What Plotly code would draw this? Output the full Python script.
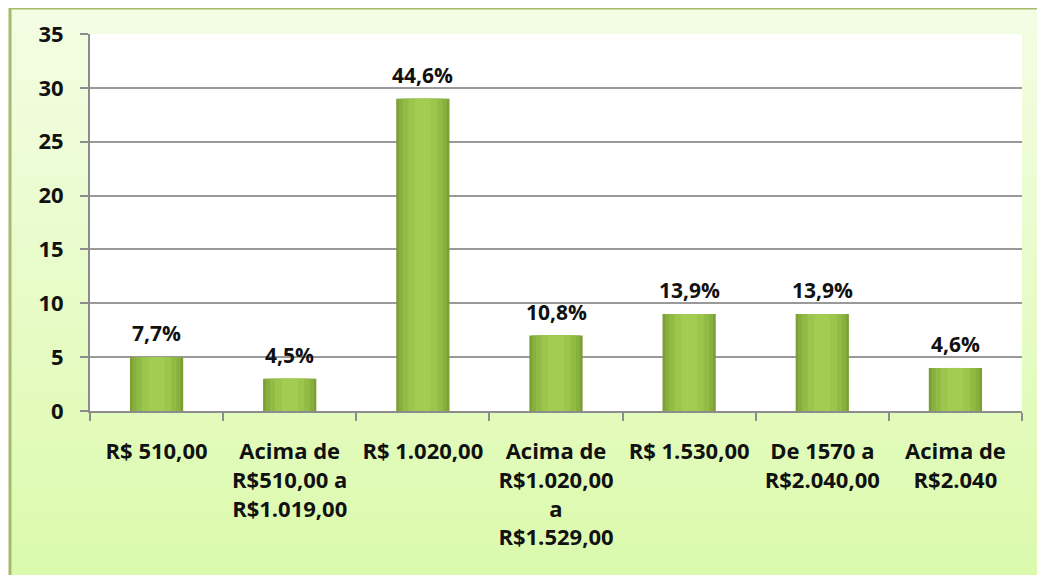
import plotly.graph_objects as go

categories = [
    "R$ 510,00",
    "Acima de<br>R$510,00 a<br>R$1.019,00",
    "R$ 1.020,00",
    "Acima de<br>R$1.020,00<br>a<br>R$1.529,00",
    "R$ 1.530,00",
    "De 1570 a<br>R$2.040,00",
    "Acima de<br>R$2.040",
]
values = [5, 3, 29, 7, 9, 9, 4]
pct_labels = ["7,7%", "4,5%", "44,6%", "10,8%", "13,9%", "13,9%", "4,6%"]
y_ticks = [0, 5, 10, 15, 20, 25, 30, 35]

FONT = "Open Sans"
W, H = 1045, 575
OFF = 8  # page body margin
L, T = 90 - OFF, 34 - OFF
pw, ph = 932, 377
R = W - L - pw
B = H - T - ph

fig = go.Figure()
# stepped gradient bars (outer dark -> inner light)
layers = [(0.40, "#7e9f36"), (0.36, "#88b03e"), (0.30, "#92bb45"), (0.22, "#9bc54c"), (0.12, "#a2cc52")]
for w, c in layers:
    fig.add_trace(go.Bar(
        x=categories, y=values, width=w, marker=dict(color=c, line=dict(width=0)),
        hoverinfo="skip", showlegend=False,
    ))

for cat, v, lab in zip(categories, values, pct_labels):
    fig.add_annotation(
        x=cat, y=v, text=lab, showarrow=False, yanchor="bottom", yshift=8,
        font=dict(family=FONT, size=21, color="#111111", weight="bold"),
    )

# background gradient bands inside the chart border
def px_to_paper_x(px):
    return (px - OFF - L) / pw

def px_to_paper_y(py):
    return 1 - (py - OFF - T) / ph

top_c = (0xf3, 0xfd, 0xe4)
bot_c = (0xdb, 0xfa, 0xab)
y_top, y_bot = 8, 590
n = 24
bx0 = px_to_paper_x(10)
for i in range(n):
    t = (i + 0.5) / n
    c = tuple(round(a + (b - a) * t) for a, b in zip(top_c, bot_c))
    ya = y_top + (y_bot - y_top) * i / n
    yb = y_top + (y_bot - y_top) * (i + 1) / n + 1
    fig.add_shape(type="rect", xref="paper", yref="paper", x0=bx0, x1=1.1,
                  y0=px_to_paper_y(yb), y1=px_to_paper_y(ya),
                  fillcolor="rgb(%d,%d,%d)" % c, line=dict(width=0), layer="below")
fig.add_shape(type="rect", xref="paper", yref="paper", x0=bx0, x1=1.1,
              y0=px_to_paper_y(y_bot), y1=px_to_paper_y(y_top),
              fillcolor="rgba(0,0,0,0)", line=dict(color="#a7ba6c", width=3), layer="below")
fig.add_shape(type="rect", xref="paper", yref="paper", x0=0, x1=1, y0=0, y1=1,
              fillcolor="white", line=dict(width=0), layer="below")

fig.update_layout(
    width=W, height=H, barmode="overlay",
    margin=dict(l=L, r=R, t=T, b=B, autoexpand=False),
    paper_bgcolor="white", plot_bgcolor="rgba(0,0,0,0)",
    font=dict(family=FONT, size=21, color="#111111"),
)
fig.update_xaxes(
    type="category", showgrid=False, showline=True, linecolor="#8c8c8c", linewidth=2,
    ticks="outside", ticklen=8, tickcolor="#8c8c8c", tickwidth=2, tickson="boundaries",
    tickfont=dict(family=FONT, size=22, color="#111111", weight="bold"),
    automargin=False, ticklabelstandoff=20,
)
fig.update_yaxes(
    range=[0, 35], tickvals=y_ticks, showgrid=True, gridcolor="#999999", gridwidth=2,
    showline=True, linecolor="#8c8c8c", linewidth=2, zeroline=False,
    ticks="outside", ticklen=8, tickcolor="#8c8c8c", tickwidth=2,
    tickfont=dict(family=FONT, size=22, color="#111111", weight="bold"),
    automargin=False, ticklabelstandoff=12,
)

fig.write_html("out.html")
